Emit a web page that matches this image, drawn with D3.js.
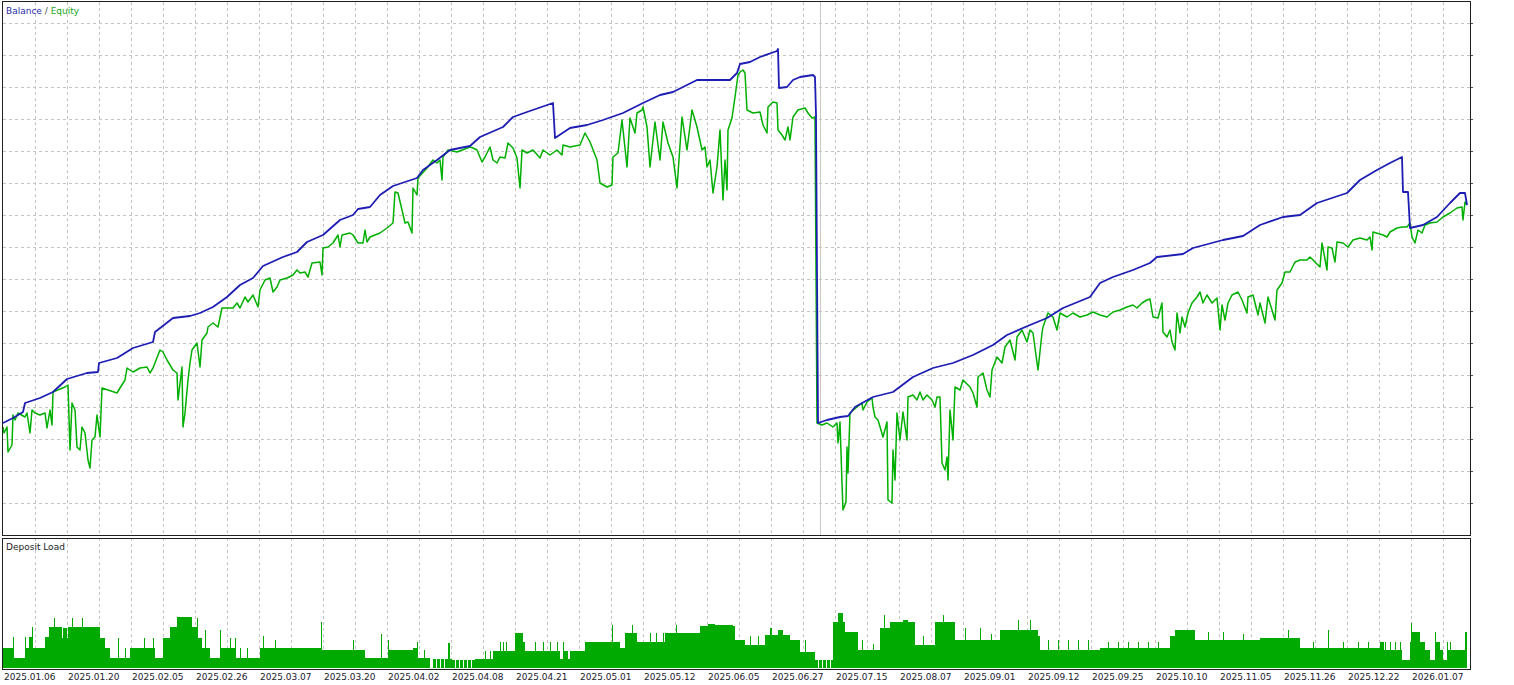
<!DOCTYPE html>
<html>
<head>
<meta charset="utf-8">
<script src="https://d3js.org/d3.v7.min.js"></script>
<style>
  body { margin: 0; background: #fff; }
  svg { display: block; font-family: "DejaVu Sans", sans-serif; }
</style>
</head>
<body>
<svg id="chart" width="1514" height="685"></svg>
<script>
// tester report: x is the deal number, labels every 64 deals
var dateLabels = ["2025.01.06", "2025.01.20", "2025.02.05", "2025.02.26", "2025.03.07", "2025.03.20",
  "2025.04.02", "2025.04.08", "2025.04.21", "2025.05.01", "2025.05.12", "2025.06.05", "2025.06.27",
  "2025.07.15", "2025.08.07", "2025.09.01", "2025.09.12", "2025.09.25", "2025.10.10", "2025.11.05",
  "2025.11.26", "2025.12.22", "2026.01.07"];

// [deal, balance]
var balance = [[0,10000],[10,10125],[20,10275],[22,10500],[37,10625],[50,10775],[64,11100],[84,11250],
  [95,11275],[96,11500],[114,11625],[130,11875],[150,12025],[152,12275],[170,12625],[187,12675],
  [197,12750],[210,12900],[224,13150],[237,13450],[250,13625],[260,13925],[280,14150],[294,14275],
  [304,14525],[320,14700],[337,15075],[350,15200],[355,15350],[367,15400],[377,15700],[390,15925],
  [414,16125],[420,16325],[434,16575],[447,16825],[467,16925],[477,17150],[500,17400],[510,17650],
  [524,17775],[550,18000],[552,17125],[567,17375],[584,17450],[600,17575],[620,17750],[640,18000],
  [657,18200],[670,18275],[694,18575],[727,18575],[734,18750],[737,18975],[747,19025],[757,19150],
  [774,19300],[775,19350],[776,18375],[784,18400],[790,18575],[797,18650],[810,18700],[812,18650],
  [813,17700],[814,13825],[815,10000],[824,10075],[837,10150],[845,10175],[852,10400],[870,10650],
  [890,10775],[910,11150],[930,11375],[950,11500],[970,11700],[990,11950],[1004,12200],[1027,12450],
  [1044,12625],[1060,12875],[1087,13150],[1097,13500],[1110,13650],[1130,13825],[1147,14000],
  [1154,14150],[1180,14225],[1190,14375],[1220,14575],[1240,14675],[1257,14950],[1280,15150],
  [1297,15200],[1314,15500],[1344,15750],[1357,16075],[1374,16325],[1387,16500],[1399,16650],
  [1400,15775],[1405,15775],[1407,14875],[1420,14950],[1434,15150],[1447,15500],[1457,15750],
  [1462,15750],[1464,15450]];

// [deal, equity]
var equity = [[0,9900],[1,9750],[4,9900],[5,9275],[9,9450],[10,10200],[12,10075],[15,10250],[22,10150],
  [24,10250],[27,9750],[29,10325],[32,10250],[37,10200],[42,10250],[44,9875],[47,10325],[49,9950],
  [50,10775],[62,10900],[65,10950],[67,9325],[69,10500],[72,10325],[74,9400],[77,9325],[79,9900],
  [82,9750],[85,9075],[87,8875],[89,9575],[92,9650],[94,10200],[97,9650],[99,10875],[114,10750],
  [117,10875],[122,11075],[124,11375],[130,11275],[137,11375],[144,11400],[147,11250],[150,11375],
  [157,11825],[160,11775],[164,11575],[170,11325],[174,11250],[175,10575],[179,11400],[180,9900],
  [182,10250],[185,11075],[187,11500],[189,11825],[194,12000],[197,11400],[199,12075],[204,12250],
  [205,12400],[210,12500],[215,12400],[219,12875],[230,12875],[234,13000],[237,12875],[242,13150],
  [245,13025],[250,13200],[255,12900],[257,13325],[262,13575],[267,13625],[270,13275],[274,13400],
  [277,13575],[284,13625],[290,13700],[294,13825],[297,13750],[302,13775],[305,13650],[309,14000],
  [317,14025],[319,13700],[320,14375],[325,14400],[330,14500],[335,14700],[337,14400],[339,14700],
  [347,14750],[350,14700],[355,14500],[360,14500],[362,14825],[364,14525],[367,14650],[377,14750],
  [384,14875],[390,15000],[392,15775],[395,15750],[399,15325],[402,15000],[405,15025],[409,14750],
  [410,15875],[414,15700],[415,16125],[424,16375],[430,16575],[434,16500],[437,16575],[439,16075],
  [440,16650],[445,16825],[454,16775],[467,16900],[470,16875],[474,16825],[479,16525],[482,16650],
  [487,16900],[490,16575],[494,16500],[497,16650],[502,16625],[505,17000],[510,16875],[514,16625],
  [517,15875],[519,16825],[524,16750],[530,16825],[537,16625],[540,16825],[547,16700],[554,16825],
  [559,16700],[560,16950],[567,16900],[577,16950],[582,17250],[587,17025],[589,16900],[594,16575],
  [597,16000],[604,15900],[609,15950],[610,16650],[615,16750],[619,17575],[624,16400],[627,17625],
  [632,17250],[634,17750],[639,17825],[640,17900],[644,17400],[647,16400],[652,17525],[657,16575],
  [660,17525],[665,17000],[670,16650],[674,15875],[679,17650],[684,16825],[689,17825],[694,17400],
  [699,16825],[702,16900],[704,16400],[707,16575],[710,15750],[714,16400],[717,17325],[720,15575],
  [722,16575],[724,15825],[725,17325],[729,17625],[732,18150],[735,18700],[737,18775],[740,18825],
  [742,18750],[744,17825],[750,17750],[757,17775],[760,17450],[764,17250],[765,17900],[770,18025],
  [774,18000],[775,17325],[779,17200],[782,17075],[785,17400],[787,17075],[790,17650],[795,17825],
  [802,17875],[805,17750],[809,17625],[812,17650],[814,10000],[819,9950],[824,10000],[830,9900],
  [834,10000],[835,9500],[837,10025],[839,8500],[840,7825],[843,8025],[844,9400],[845,8750],
  [847,10250],[854,10400],[859,10500],[860,10325],[864,10525],[869,10625],[870,10400],[872,10150],
  [875,10075],[880,9650],[884,10025],[885,8075],[889,8000],[890,9325],[892,8575],[894,10250],
  [897,9575],[900,10275],[904,9575],[905,10650],[910,10700],[914,10575],[917,10775],[920,10575],
  [924,10700],[929,10575],[932,10400],[934,10650],[937,10650],[939,9000],[942,8825],[944,9150],
  [945,8575],[947,10325],[950,9575],[952,10900],[957,10825],[960,11075],[967,10900],[970,10750],
  [974,10400],[975,11150],[980,11250],[984,10825],[987,10650],[989,11325],[994,11650],[999,11500],
  [1002,11900],[1007,12075],[1012,11575],[1014,12150],[1019,12325],[1024,12025],[1027,12325],
  [1030,12250],[1035,11325],[1039,12250],[1040,12400],[1045,12750],[1050,12650],[1054,12325],
  [1057,12750],[1064,12650],[1070,12750],[1077,12650],[1084,12700],[1090,12775],[1097,12700],
  [1104,12650],[1110,12775],[1117,12825],[1124,12900],[1130,12950],[1134,12875],[1139,13000],
  [1144,13075],[1147,13100],[1150,12650],[1155,12625],[1159,13000],[1160,12275],[1164,12150],
  [1167,12325],[1169,12025],[1172,11825],[1174,12750],[1177,12250],[1179,12650],[1182,12400],
  [1185,12750],[1189,13000],[1194,13150],[1197,13275],[1200,13000],[1204,13200],[1209,13000],
  [1214,13125],[1217,12325],[1219,12950],[1222,12575],[1225,13000],[1229,13200],[1235,13275],
  [1239,13075],[1244,12750],[1245,13150],[1250,13200],[1255,12700],[1257,13000],[1262,12500],
  [1265,13150],[1269,12825],[1272,12575],[1274,13325],[1279,13500],[1282,13775],[1287,13775],
  [1292,14025],[1297,14075],[1304,14075],[1307,14150],[1310,14075],[1317,13900],[1319,14500],
  [1324,13825],[1325,14400],[1329,14375],[1332,14025],[1334,14525],[1340,14500],[1345,14400],
  [1350,14575],[1357,14625],[1364,14575],[1367,14650],[1369,14325],[1370,14775],[1380,14700],
  [1384,14650],[1387,14775],[1394,14875],[1399,14900],[1404,14900],[1407,15000],[1409,14650],
  [1412,14500],[1415,14825],[1419,14750],[1422,14950],[1427,15000],[1434,15025],[1440,15150],
  [1447,15250],[1454,15375],[1459,15400],[1460,15075],[1462,15525],[1464,15450]];

// [deal, deposit load %], held until the next deal
var depositLoad = [[0,10],[10,15.5],[11,5],[22,15.5],[23,10],[26,15.5],[29,20.5],[30,10],[42,15.5],
  [46,20.5],[51,25],[52,20.5],[59,15],[60,20],[64,15],[65,20.5],[69,25],[70,20.5],[79,25],[80,20.5],
  [97,15],[102,10],[107,5],[115,15],[116,5],[122,10],[123,5],[127,10],[141,15],[142,10],[150,15],
  [151,10],[152,5],[160,15],[167,20.5],[174,25.5],[189,20.5],[194,25],[195,15],[199,10],[202,19],
  [203,10],[207,5],[217,19],[218,10],[227,15],[228,10],[232,15],[233,5],[237,10],[238,5],[244,10],
  [245,5],[257,10],[260,16],[261,10],[272,14],[273,10],[318,23],[319,9],[350,14],[351,9],[362,5],
  [378,17],[379,5],[385,14],[386,9],[410,10],[414,13],[415,5],[421,9],[422,5],[427,0],[430,4.5],
  [433,0],[434,4.5],[437,0],[438,4.5],[441,0],[442,4.5],[445,12.5],[447,4.5],[449,4],[452,0],[453,4],
  [456,0],[457,4],[460,0],[461,4],[464,0],[465,4],[468,0],[469,4],[472,4.5],[482,8.5],[483,4.5],
  [487,8.5],[488,4.5],[490,8.5],[497,13],[498,8.5],[500,13],[501,8.5],[503,13],[504,8.5],[512,17.5],
  [520,13],[522,8.5],[532,13],[533,8.5],[540,13],[541,8.5],[547,13],[548,8.5],[554,13],[555,8.5],
  [557,4.5],[560,13],[561,8.5],[565,4.5],[567,8.5],[582,13],[609,21.5],[610,13],[617,10],[622,17.5],
  [629,21.5],[630,17.5],[634,13],[647,17.5],[648,13],[653,17.5],[654,13],[660,17.5],[661,13],
  [662,17.5],[673,21.5],[674,17.5],[697,21],[705,22],[712,21.5],[730,21],[732,14],[742,11.5],
  [747,16],[748,11.5],[755,16],[756,11.5],[762,16.5],[767,20],[769,16.5],[775,19],[780,16.5],
  [787,14],[797,8],[802,14],[803,8],[812,4],[815,0],[816,4],[819,0],[820,4],[823,0],[824,4],[827,0],
  [828,4],[830,23],[835,27.5],[840,23],[842,18],[855,9],[859,14],[860,9],[870,12],[871,9],[877,20],
  [881,26.5],[882,20],[887,23],[900,24],[905,23],[912,11.5],[920,16],[921,11.5],[932,23],[940,26.5],
  [941,23],[952,14],[962,20],[963,14],[977,20],[978,14],[988,17],[989,14],[997,19],[1015,24],
  [1016,19],[1027,24],[1028,19],[1035,16],[1037,9],[1045,14],[1046,9],[1055,14],[1056,9],[1065,14],
  [1066,9],[1075,14],[1076,9],[1085,14],[1086,9],[1097,10],[1105,13],[1106,10],[1115,13],[1116,10],
  [1125,13],[1126,10],[1135,13],[1136,10],[1145,13],[1146,10],[1155,13],[1156,10],[1167,16],
  [1172,19],[1192,14],[1205,18],[1206,14],[1220,18],[1221,14],[1240,17],[1241,14],[1257,15],
  [1285,19],[1286,15],[1297,10],[1310,13],[1311,10],[1325,19],[1326,10],[1340,13],[1341,10],
  [1355,13],[1356,10],[1365,13],[1366,10],[1377,13],[1381,9],[1382,13],[1383,9],[1387,13],[1388,9],
  [1392,13],[1393,9],[1397,13],[1398,9],[1399,4],[1407,13],[1408,22.5],[1409,18],[1417,13],[1422,9],
  [1427,4],[1432,18],[1433,13],[1437,9],[1440,4],[1444,13],[1445,9],[1447,13],[1448,9],[1462,18],
  [1464,18]];

var markerDeal = 817;

var colors = {
  balance: '#1d1db4',
  equity: '#00b000',
  load: '#00aa00',
  grid: '#c4c4c4',
  frame: '#202020',
  text: '#1a1a2e'
};

// panel boxes (window.top is taken, so "main")
var main = { left: 3, right: 1471, top: 2, bottom: 536 };
var low = { top: 538, bottom: 669 };

var svg = d3.select('#chart');
svg.append('rect').attr('width', 1514).attr('height', 685).attr('fill', '#fff');

var x = d3.scaleLinear().domain([0, 1468]).range([main.left, main.right]);
var y = d3.scaleLinear().domain([7175, 20525]).range([main.bottom, main.top]);
var yLoad = d3.scaleLinear().domain([0, 64]).range([668, 540]);

var crisp = function(v) { return Math.round(v) + 0.5; };

// grid
var vGrid = d3.range(32, 1441, 32);
var hGrid = d3.range(8000, 20001, 800);
var grid = svg.append('g')
  .attr('stroke', colors.grid)
  .attr('stroke-dasharray', '3,3')
  .attr('shape-rendering', 'crispEdges');

[[main.top, main.bottom], [low.top, low.bottom]].forEach(function(span) {
  grid.append('g')
    .selectAll('line')
    .data(vGrid)
    .enter()
    .append('line')
    .attr('x1', function(d) { return crisp(x(d)); })
    .attr('x2', function(d) { return crisp(x(d)); })
    .attr('y1', span[0])
    .attr('y2', span[1]);
});

grid.append('g')
  .selectAll('line')
  .data(hGrid)
  .enter()
  .append('line')
  .attr('x1', main.left)
  .attr('x2', main.right)
  .attr('y1', function(d) { return crisp(y(d)); })
  .attr('y2', function(d) { return crisp(y(d)); });

// little ticks on the right edge
svg.append('g')
  .selectAll('line')
  .data(hGrid)
  .enter()
  .append('line')
  .attr('x1', main.right)
  .attr('x2', main.right + 2)
  .attr('y1', function(d) { return crisp(y(d)); })
  .attr('y2', function(d) { return crisp(y(d)); })
  .attr('stroke', '#555')
  .attr('shape-rendering', 'crispEdges');

svg.append('line')
  .attr('x1', crisp(x(markerDeal)))
  .attr('x2', crisp(x(markerDeal)))
  .attr('y1', main.top)
  .attr('y2', main.bottom)
  .attr('stroke', '#c8c8c8')
  .attr('shape-rendering', 'crispEdges');

// deposit load
var loadArea = d3.area()
  .curve(d3.curveStepAfter)
  .x(function(d) { return x(d[0]); })
  .y0(yLoad(0))
  .y1(function(d) { return yLoad(d[1]); });

svg.append('path')
  .datum(depositLoad)
  .attr('d', loadArea)
  .attr('fill', colors.load)
  .attr('shape-rendering', 'crispEdges');

// balance / equity
var line = d3.line()
  .x(function(d) { return x(d[0]); })
  .y(function(d) { return y(d[1]); });

svg.append('path')
  .datum(equity)
  .attr('d', line)
  .attr('fill', 'none')
  .attr('stroke', colors.equity)
  .attr('stroke-width', 1.5)
  .attr('stroke-linejoin', 'round');

svg.append('path')
  .datum(balance)
  .attr('d', line)
  .attr('fill', 'none')
  .attr('stroke', colors.balance)
  .attr('stroke-width', 1.8)
  .attr('stroke-linejoin', 'round');

// frames
svg.append('rect')
  .attr('x', main.left - 0.5)
  .attr('y', main.top - 0.5)
  .attr('width', main.right - main.left)
  .attr('height', main.bottom - main.top)
  .attr('fill', 'none')
  .attr('stroke', colors.frame);

svg.append('rect')
  .attr('x', main.left - 0.5)
  .attr('y', low.top + 0.5)
  .attr('width', main.right - main.left)
  .attr('height', low.bottom - low.top)
  .attr('fill', 'none')
  .attr('stroke', colors.frame);

// texts
var title = svg.append('text')
  .attr('x', 6)
  .attr('y', 14)
  .style('font-size', '9px');
title.append('tspan').attr('fill', '#2a2aa8').text('Balance');
title.append('tspan').attr('fill', '#444').text(' / ');
title.append('tspan').attr('fill', '#1aa81a').text('Equity');

svg.append('text')
  .attr('x', 6)
  .attr('y', 550)
  .attr('fill', '#222')
  .style('font-size', '9px')
  .text('Deposit Load');

svg.append('g')
  .selectAll('text')
  .data(dateLabels)
  .enter()
  .append('text')
  .attr('x', function(d, i) { return Math.round(x(i * 64)) + 1; })
  .attr('y', 680)
  .attr('fill', colors.text)
  .style('font-size', '9px')
  .text(function(d) { return d; });
</script>
</body>
</html>
